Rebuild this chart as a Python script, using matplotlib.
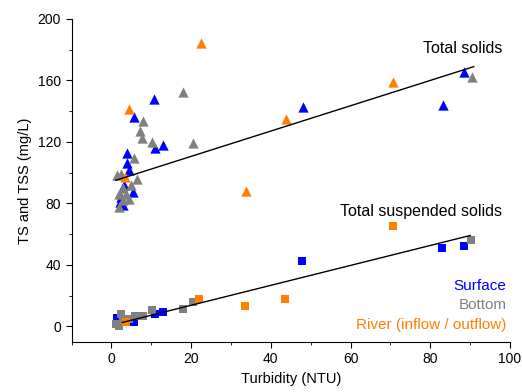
import numpy as np
import matplotlib
matplotlib.use('Agg')
from matplotlib import pyplot as plt
from matplotlib.ticker import MultipleLocator

plt.rcParams['font.family'] = ['Liberation Sans', 'DejaVu Sans']

# Total solids (triangles)
ts_surf_x = [10.8, 5.7, 4.0, 4.0, 4.4, 3.2, 5.3, 2.2, 13.0, 10.9, 48.0, 83.1, 88.4, 2.5, 3.0]
ts_surf_y = [147.6, 135.9, 113, 106.3, 101.5, 91.7, 87.4, 80.9, 117.8, 115.7, 142.4, 143.9, 165.6, 84, 79]
ts_bot_x = [17.9, 20.5, 7.9, 7.3, 7.8, 10.1, 5.7, 6.5, 1.3, 2.3, 1.9, 4.4, 1.9, 4.8, 90.5, 3.0, 2.8, 3.6]
ts_bot_y = [152.2, 119.3, 133.7, 127.2, 122.2, 120, 109.6, 96.1, 98.3, 99.4, 86.3, 83, 77.6, 91.7, 162, 90, 82, 86]
ts_riv_x = [22.4, 43.7, 70.7, 33.7, 4.3, 3.4]
ts_riv_y = [184.5, 135, 158.7, 88, 141.3, 97.2]

# Total suspended solids (squares)
tss_surf_x = [47.9, 83.0, 88.4, 12.9, 10.9, 1.5, 5.7]
tss_surf_y = [42.8, 51.1, 52.2, 9.6, 8.1, 5.5, 2.6]
tss_bot_x = [90.2, 20.4, 18.0, 10.1, 6.0, 7.0, 8.0, 2.3, 1.1, 1.9, 4.5, 3.0]
tss_bot_y = [56.5, 15.6, 11.3, 10.9, 6.5, 7.0, 7.0, 8.1, 1.6, 0.5, 5.0, 3.5]
tss_riv_x = [70.7, 43.5, 33.5, 22.1, 3.6]
tss_riv_y = [65.2, 17.6, 13.3, 17.9, 2.6]

# linear fits (slope, intercept, x range)
ts_fit = (0.823, 94.1, 1.1, 90.9)
tss_fit = (0.648, 0.8, 2.8, 90.0)

blue = '#0000ff'
gray = '#808080'
orange = '#ff7f00'

fig = plt.figure(figsize=(5.22, 3.92), dpi=100)
ax = fig.add_axes([0.137, 0.128, 0.840, 0.824])

ax.scatter(ts_surf_x, ts_surf_y, marker='^', s=55, color=blue, linewidths=0, zorder=3)
ax.scatter(ts_bot_x, ts_bot_y, marker='^', s=55, color=gray, linewidths=0, zorder=3)
ax.scatter(ts_riv_x, ts_riv_y, marker='^', s=55, color=orange, linewidths=0, zorder=3)

ax.scatter(tss_surf_x, tss_surf_y, marker='s', s=28, color=blue, linewidths=0, zorder=3)
ax.scatter(tss_bot_x, tss_bot_y, marker='s', s=28, color=gray, linewidths=0, zorder=3)
ax.scatter(tss_riv_x, tss_riv_y, marker='s', s=28, color=orange, linewidths=0, zorder=3)

for m, b, x0, x1 in [ts_fit, tss_fit]:
    xx = np.array([x0, x1])
    ax.plot(xx, m * xx + b, color='black', lw=1, zorder=4)

ax.text(0.892, 0.909, 'Total solids', transform=ax.transAxes,
        ha='center', va='center', fontsize=11.5)
ax.text(0.798, 0.402, 'Total suspended solids', transform=ax.transAxes,
        ha='center', va='center', fontsize=11.5)
ax.text(0.992, 0.173, 'Surface', transform=ax.transAxes, ha='right', va='center', fontsize=11, color=blue)
ax.text(0.992, 0.1146, 'Bottom', transform=ax.transAxes, ha='right', va='center', fontsize=11, color=gray)
ax.text(0.992, 0.0526, 'River (inflow / outflow)', transform=ax.transAxes,
        ha='right', va='center', fontsize=11, color=orange)

ax.set_xlim(-10, 100)
ax.set_ylim(-10, 200)
ax.xaxis.set_major_locator(MultipleLocator(20))
ax.xaxis.set_minor_locator(MultipleLocator(10))
ax.yaxis.set_major_locator(MultipleLocator(40))
ax.yaxis.set_minor_locator(MultipleLocator(20))
ax.tick_params(which='both', direction='out', labelsize=10)
ax.tick_params(which='major', length=4)
ax.tick_params(which='minor', length=2.5)
ax.spines['top'].set_visible(False)
ax.spines['right'].set_visible(False)
ax.set_xlabel('Turbidity (NTU)', fontsize=10.5)
ax.set_ylabel('TS and TSS (mg/L)', fontsize=10.5)

fig.savefig('out.png', dpi=100)
